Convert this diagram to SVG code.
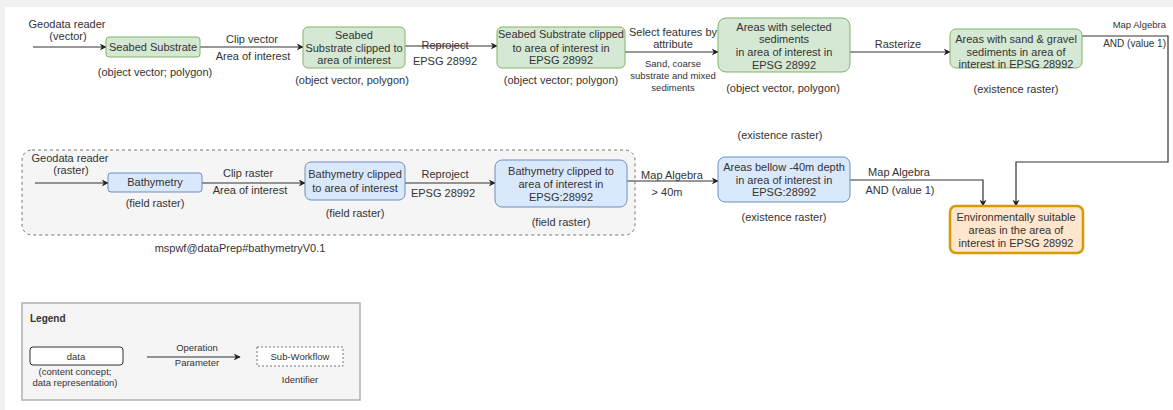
<svg xmlns="http://www.w3.org/2000/svg" width="1173" height="410" viewBox="0 0 1173 410">
<style>
text{font-family:"Liberation Sans",Arial,sans-serif;font-size:11px;fill:#333;text-anchor:middle}
.sm{font-size:9.5px}
.lg{font-size:9.5px}
.r{text-anchor:end}
.g{fill:#d5e8d4;stroke:#82b366;stroke-width:1}
.b{fill:#dae8fc;stroke:#6c8ebf;stroke-width:1}
.o{fill:#ffe6cc;stroke:#d79b00;stroke-width:2.5}
.e{fill:none;stroke:#333;stroke-width:1.2}
</style>
<defs>
<marker id="ah" viewBox="0 0 10 10" refX="9" refY="5" markerWidth="7" markerHeight="7" orient="auto" markerUnits="userSpaceOnUse"><path d="M0,0 L10,5 L0,10 L3,5 Z" fill="#222"/></marker>
</defs>
<rect x="0" y="0" width="1173" height="410" fill="#f1f1f1"/>
<rect x="5" y="7" width="1168" height="403" fill="#ffffff"/>

<g id="subworkflow">
<rect x="22" y="150" width="613" height="85" rx="10" fill="#f5f5f5" stroke="#777" stroke-dasharray="3 3"/>
<text x="240" y="252">mspwf@dataPrep#bathymetryV0.1</text>
</g>

<g id="connectors">
<path class="e" d="M33,47 H106" marker-end="url(#ah)"/>
<text x="67" y="28">Geodata reader</text>
<text x="68" y="40">(vector)</text>
<path class="e" d="M200,47 H303" marker-end="url(#ah)"/>
<text x="252" y="43">Clip vector</text>
<text x="253" y="60">Area of interest</text>
<path class="e" d="M405,46 H497" marker-end="url(#ah)"/>
<text x="445" y="49">Reproject</text>
<text x="445" y="65">EPSG 28992</text>
<path class="e" d="M625,52 H718" marker-end="url(#ah)"/>
<text x="673" y="36">Select features by</text>
<text x="673" y="48">attribute</text>
<text class="sm" x="673" y="67">Sand, coarse</text>
<text class="sm" x="673" y="79">substrate and mixed</text>
<text class="sm" x="673" y="91">sediments</text>
<path class="e" d="M850,52 H950" marker-end="url(#ah)"/>
<text x="898" y="48">Rasterize</text>
<path class="e" d="M1082,36 H1168 V162 H1016 V206" marker-end="url(#ah)"/>
<text class="r" x="1166" y="28" style="font-size:9.5px">Map Algebra</text>
<text class="r" x="1166" y="47" style="font-size:10px">AND (value 1)</text>

<path class="e" d="M35,183 H108" marker-end="url(#ah)"/>
<text x="70" y="162">Geodata reader</text>
<text x="71" y="174">(raster)</text>
<path class="e" d="M202,183 H305" marker-end="url(#ah)"/>
<text x="248" y="177">Clip raster</text>
<text x="250" y="194">Area of interest</text>
<path class="e" d="M405,183 H495" marker-end="url(#ah)"/>
<text x="445" y="178">Reproject</text>
<text x="443" y="197">EPSG 28992</text>
<path class="e" d="M627,181 H718" marker-end="url(#ah)"/>
<text x="672" y="179">Map Algebra</text>
<text x="667" y="196">&gt; 40m</text>
<path class="e" d="M850,180 H983 V206" marker-end="url(#ah)"/>
<text x="899" y="176">Map Algebra</text>
<text x="900" y="194">AND (value 1)</text>
</g>

<g id="n1">
<rect class="g" x="106" y="37" width="94" height="20" rx="3"/>
<text x="153" y="51">Seabed Substrate</text>
<text x="155" y="76">(object vector; polygon)</text>
</g>
<g id="n2">
<rect class="g" x="303" y="27" width="102" height="41" rx="5"/>
<text x="354" y="39">Seabed</text>
<text x="354" y="51.5">Substrate clipped to</text>
<text x="354" y="64">area of interest</text>
<text x="352" y="84">(object vector, polygon)</text>
</g>
<g id="n3">
<rect class="g" x="497" y="27" width="128" height="41" rx="5"/>
<text x="561" y="38">Seabed Substrate clipped</text>
<text x="561" y="51.5">to area of interest  in</text>
<text x="561" y="64">EPSG 28992</text>
<text x="561" y="84">(object vector; polygon)</text>
</g>
<g id="n4">
<rect class="g" x="718" y="18" width="132" height="54" rx="8"/>
<text x="784" y="31">Areas with selected</text>
<text x="784" y="43">sediments</text>
<text x="784" y="56">in area of interest in</text>
<text x="784" y="69">EPSG 28992</text>
<text x="783" y="92">(object vector, polygon)</text>
</g>
<g id="n5">
<rect class="g" x="950" y="29" width="132" height="39" rx="6"/>
<text x="1016" y="43">Areas with sand &amp; gravel</text>
<text x="1016" y="56">sediments in area of</text>
<text x="1016" y="68">interest in EPSG 28992</text>
<text x="1016" y="93">(existence raster)</text>
</g>
<g id="b1">
<rect class="b" x="108" y="173" width="94" height="19" rx="3"/>
<text x="155" y="186">Bathymetry</text>
<text x="155" y="207">(field raster)</text>
</g>
<g id="b2">
<rect class="b" x="305" y="162" width="100" height="38" rx="6"/>
<text x="355" y="178">Bathymetry clipped</text>
<text x="355" y="191.5">to area of interest</text>
<text x="355" y="217">(field raster)</text>
</g>
<g id="b3">
<rect class="b" x="495" y="160" width="132" height="47" rx="7"/>
<text x="561" y="175">Bathymetry clipped to</text>
<text x="561" y="188">area of interest in</text>
<text x="561" y="201">EPSG:28992</text>
<text x="561" y="226">(field raster)</text>
</g>
<g id="b4">
<text x="780" y="139">(existence raster)</text>
<rect class="b" x="718" y="157" width="132" height="45" rx="7"/>
<text x="784" y="171">Areas bellow -40m depth</text>
<text x="784" y="184">in area of interest in</text>
<text x="784" y="196">EPSG:28992</text>
<text x="784" y="221">(existence raster)</text>
</g>
<g id="result">
<rect class="o" x="950" y="206" width="133" height="47" rx="6"/>
<text x="1016" y="221">Environmentally suitable</text>
<text x="1016" y="234">areas in the area of</text>
<text x="1016" y="247">interest in EPSG 28992</text>
</g>

<g id="legend">
<rect x="22" y="303" width="338" height="97" fill="#f5f5f5" stroke="#b0b0b0" stroke-width="1.5"/>
<text x="30" y="322" style="text-anchor:start;font-weight:bold;font-size:10px">Legend</text>
<rect x="30" y="347" width="93" height="18" rx="3" fill="#fff" stroke="#333"/>
<text class="lg" x="76" y="360">data</text>
<text class="lg" x="75" y="375">(content concept;</text>
<text class="lg" x="75" y="386">data representation)</text>
<path class="e" d="M147,357 H240" marker-end="url(#ah)"/>
<text class="lg" x="197" y="351">Operation</text>
<text class="lg" x="197" y="366">Parameter</text>
<rect x="257" y="347" width="86" height="19" fill="#fff" stroke="#777" stroke-dasharray="2 2"/>
<text class="lg" x="300" y="360">Sub-Workflow</text>
<text class="lg" x="300" y="383">Identifier</text>
</g>
</svg>
